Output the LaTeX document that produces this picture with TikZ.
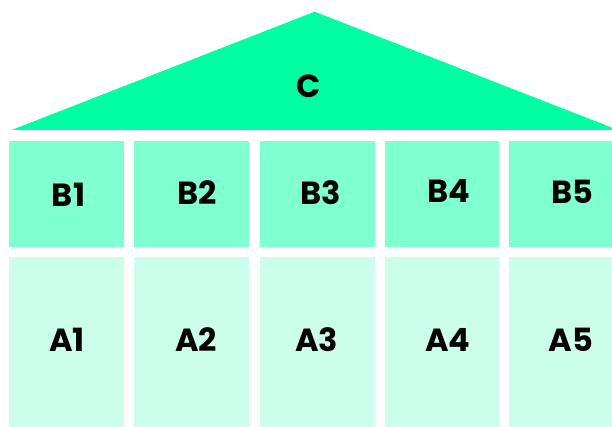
\documentclass[tikz,border=0pt]{standalone}
\usepackage{fontspec}
\setmainfont{Poppins}
\definecolor{roofc}{RGB}{0,255,163}
\definecolor{midc}{RGB}{128,255,209}
\definecolor{lowc}{RGB}{204,255,235}
\begin{document}
\begin{tikzpicture}[x=1pt,y=-1pt,
  boxb/.style={fill=midc,draw=none,minimum width=115pt,minimum height=106pt,inner sep=0pt,anchor=north west},
  boxa/.style={fill=lowc,draw=none,minimum width=115pt,minimum height=171pt,inner sep=0pt,anchor=north west},
  lbl/.style={font=\fontsize{32}{32}\selectfont\bfseries,inner sep=0pt,text=black}]
\useasboundingbox (0,0) rectangle (612,427);
\clip (0,0) rectangle (612,427);
\fill[roofc] (11.7,130) -- (314.6,11.7) -- (618,130) -- cycle;
\node[lbl] (C) at (309,86) {C};
% row B
\node[boxb] (b1) at (9,141) {};
\node[boxb] (b2) at (134,141) {};
\node[boxb] (b3) at (260,141) {};
\node[boxb,minimum width=114pt] (b4) at (385,141) {};
\node[boxb] (b5) at (509,141) {};
% row A
\node[boxa] (a1) at (9,256.5) {};
\node[boxa] (a2) at (134,256.5) {};
\node[boxa] (a3) at (260,256.5) {};
\node[boxa,minimum width=114pt] (a4) at (385,256.5) {};
\node[boxa] (a5) at (509,256.5) {};
% labels
\node[lbl] (lb1) at (68.5,194.5) {B1};
\node[lbl] (lb2) at (197.5,192.8) {B2};
\node[lbl] (lb3) at (321,192.8) {B3};
\node[lbl] (lb4) at (449,190.5) {B4};
\node[lbl] (lb5) at (572.5,192) {B5};
\node[lbl] (la1) at (67,339.7) {A1};
\node[lbl] (la2) at (196,339.7) {A2};
\node[lbl] (la3) at (316.5,339.7) {A3};
\node[lbl] (la4) at (447.7,339.7) {A4};
\node[lbl] (la5) at (571,339.7) {A5};
\end{tikzpicture}
\end{document}
